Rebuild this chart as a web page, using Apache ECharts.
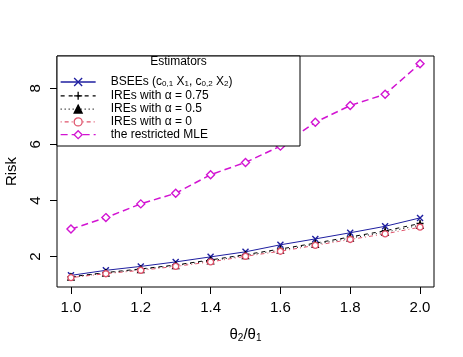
<!DOCTYPE html>
<html>
<head>
<meta charset="utf-8">
<script src="https://cdn.jsdelivr.net/npm/echarts@6/dist/echarts.min.js"></script>
<style>html,body{margin:0;padding:0;background:#fff}#c{width:463px;height:357px}</style>
</head>
<body>
<div id="c"></div>
<script>
var ratio = [1.0, 1.1, 1.2, 1.3, 1.4, 1.5, 1.6, 1.7, 1.8, 1.9, 2.0];
var bsee = [1.33, 1.51, 1.65, 1.81, 1.99, 2.17, 2.42, 2.63, 2.85, 3.08, 3.38];
var ire075 = [1.28, 1.43, 1.56, 1.70, 1.88, 2.07, 2.27, 2.48, 2.70, 2.92, 3.18];
var ire05 = [1.27, 1.41, 1.54, 1.68, 1.85, 2.04, 2.23, 2.44, 2.66, 2.87, 3.12];
var ire0 = [1.25, 1.39, 1.51, 1.65, 1.81, 2.01, 2.19, 2.40, 2.61, 2.81, 3.05];
var rmle = [2.98, 3.39, 3.88, 4.26, 4.92, 5.36, 5.94, 6.79, 7.39, 7.79, 8.88];
var xTicks = [1.0, 1.2, 1.4, 1.6, 1.8, 2.0];
var yTicks = [2, 4, 6, 8];
var names = ['BSEEs', 'IRE075', 'IRE05', 'IRE0', 'RMLE'];

function pairs(v) { return ratio.map(function (x, i) { return [x, v[i]]; }); }

var FONT = 'Liberation Sans, Arial, sans-serif';
var crossX = 'path://M0,0L10,10M10,0L0,10';
var plus = 'path://M5,0L5,10M0,5L10,5';
var tri = 'path://M5,0L10,9L0,9Z';
var diamond = 'path://M5,0L10,5L5,10L0,5Z';

function ser(name, data, color, dash, width, symbol, size, fill) {
  return {
    name: name, type: 'line', data: pairs(data),
    symbol: symbol, symbolSize: size, showSymbol: true,
    lineStyle: { color: color, width: width, type: dash },
    itemStyle: { color: fill, borderColor: color, borderWidth: 1.4 },
    emphasis: { disabled: true }, animation: false
  };
}

var chart = echarts.init(document.getElementById('c'), null, { renderer: 'canvas' });
chart.setOption({
  animation: false,
  grid: { left: 57, right: 29, top: 56, bottom: 70, show: true, borderColor: '#000', borderWidth: 1,
    backgroundColor: 'transparent', containLabel: false, outerBoundsMode: 'none' },
  xAxis: {
    type: 'value', min: 0.96, max: 2.04,
    axisLine: { show: false },
    splitLine: { show: false },
    axisTick: { show: true, length: 7, lineStyle: { color: '#000' }, customValues: xTicks },
    axisLabel: { customValues: xTicks, margin: 13, color: '#000', fontFamily: FONT, fontSize: 15,
      formatter: function (v) { return v.toFixed(1); } },
    name: '{t|θ}{s|2}{t|/θ}{s|1}', nameLocation: 'middle', nameGap: 39,
    nameTextStyle: { rich: {
      t: { fontFamily: FONT, fontSize: 15, color: '#000' },
      s: { fontFamily: FONT, fontSize: 10, color: '#000', verticalAlign: 'bottom', padding: [7, 0, 0, 0] } } }
  },
  yAxis: {
    type: 'value', min: 0.915, max: 9.155,
    axisLine: { show: false },
    splitLine: { show: false },
    axisTick: { show: true, length: 7, lineStyle: { color: '#000' }, customValues: yTicks },
    axisLabel: { customValues: yTicks, margin: 14, rotate: 90, color: '#000', fontFamily: FONT, fontSize: 15 },
    name: 'Risk', nameLocation: 'middle', nameGap: 38,
    nameTextStyle: { fontFamily: FONT, fontSize: 15, color: '#000' }
  },
  legend: {
    orient: 'vertical', left: 60, top: 75, padding: 0, itemGap: 0.8,
    itemWidth: 35, itemHeight: 10, z: 10,
    selectedMode: false,
    data: names,
    itemStyle: { borderWidth: 1.3 },
    lineStyle: { width: 1.3 },
    formatter: function (n) {
      return {
        BSEEs: '{t|BSEEs (c}{s|0,1}{t| X}{s|1}{t|, c}{s|0,2}{t| X}{s|2}{t|)}',
        IRE075: '{t|IREs with α = 0.75}',
        IRE05: '{t|IREs with α = 0.5}',
        IRE0: '{t|IREs with α = 0}',
        RMLE: '{t|the restricted MLE}'
      }[n];
    },
    textStyle: { padding: [0, 0, 0, 10], rich: {
      t: { fontFamily: FONT, fontSize: 12, color: '#000', lineHeight: 12 },
      s: { fontFamily: FONT, fontSize: 8, color: '#000', lineHeight: 12, verticalAlign: 'bottom', padding: [5, 0, 0, 0] } } }
  },
  graphic: [
    { type: 'rect', z: 8, shape: { x: 57, y: 56, width: 243, height: 90 },
      style: { fill: '#fff', stroke: '#000', lineWidth: 1 } },
    { type: 'text', z: 9, x: 178.5, y: 62, style: { text: 'Estimators', fontFamily: FONT, fontSize: 12, fill: '#000',
      textAlign: 'center', textVerticalAlign: 'middle' } }
  ],
  series: [
    ser('BSEEs', bsee, '#1f1fa0', 'solid', 1, crossX, 6, 'none'),
    ser('IRE075', ire075, '#000', [4, 4], 1, plus, 7, 'none'),
    ser('IRE05', ire05, '#000', [1, 3], 1, tri, 6, '#000'),
    ser('IRE0', ire0, '#DF536B', [1, 3, 4, 3], 1, 'circle', 6, '#fff'),
    ser('RMLE', rmle, '#D214D2', [7, 4], 1.5, diamond, 8, '#fff')
  ]
});
</script>
</body>
</html>
